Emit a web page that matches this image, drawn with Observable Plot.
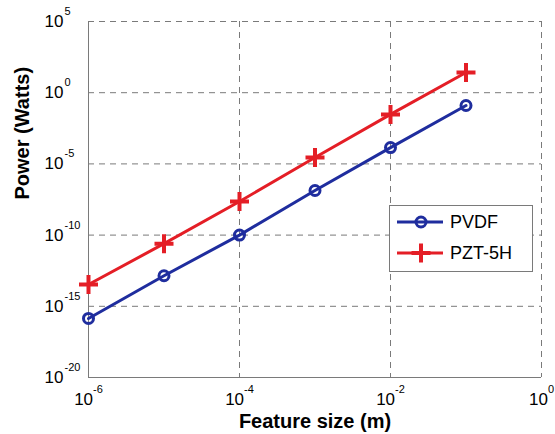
<!DOCTYPE html>
<html><head><meta charset="utf-8">
<script src="https://cdn.jsdelivr.net/npm/d3@7"></script>
<script src="https://cdn.jsdelivr.net/npm/@observablehq/plot@0.6"></script>
<style>
body{margin:0;background:#fff;}
#chart{width:555px;height:434px;}
</style></head><body><div id="chart"></div>
<script>
// Data (log-log)
const featureSize = [1e-6, 1e-5, 1e-4, 1e-3, 1e-2, 1e-1];
const pvdfPower = [1.4e-16, 1.4e-13, 1e-10, 1.35e-7, 1.4e-4, 0.126];
const pztPower = [3.4e-14, 2.5e-11, 2.3e-8, 2.8e-5, 3e-2, 26];
const seriesNames = ["PVDF", "PZT-5H"];
const seriesColors = ["#1f2d9e", "#e41e26"];
const xTicks = [1e-6, 1e-4, 1e-2, 1];
const yTicks = [1e5, 1, 1e-5, 1e-10, 1e-15, 1e-20];
const xDomain = [1e-6, 1];
const yDomain = [1e-20, 1e5];
const xLabel = "Feature size (m)";
const yLabel = "Power (Watts)";

const pvdfRows = featureSize.map((x, i) => ({x, y: pvdfPower[i], s: seriesNames[0]}));
const pztRows = featureSize.map((x, i) => ({x, y: pztPower[i], s: seriesNames[1]}));

const plusSymbol = {
  draw(ctx, size) {
    const r = Math.sqrt(size / Math.PI);
    ctx.moveTo(-r, 0); ctx.lineTo(r, 0);
    ctx.moveTo(0, -r); ctx.lineTo(0, r);
  }
};
const expFmt = d => String(Math.round(Math.log10(d)));
const gridStyle = {stroke: "#7a7a7a", strokeOpacity: 1, strokeDasharray: "6,5", strokeWidth: 1};

const plot = Plot.plot({
  width: 555, height: 434,
  marginLeft: 88, marginRight: 14, marginTop: 21, marginBottom: 57,
  style: {fontFamily: "'Liberation Sans', Arial, sans-serif", fontSize: "17px", color: "#000", background: "#fff", overflow: "visible"},
  x: {type: "log", domain: xDomain},
  y: {type: "log", domain: yDomain},
  color: {domain: seriesNames, range: seriesColors},
  marks: [
    Plot.gridX({...gridStyle, ticks: xTicks.slice(1)}),
    Plot.gridY({...gridStyle, ticks: yTicks.slice(0, -1)}),
    Plot.ruleX([xDomain[0]], {stroke: "#7a7a7a", strokeWidth: 1}),
    Plot.ruleY([yDomain[0]], {stroke: "#7a7a7a", strokeWidth: 1}),
    Plot.axisX({ticks: xTicks, tickSize: 0, tickPadding: 15, tickFormat: expFmt, label: null}),
    Plot.axisY({ticks: yTicks, tickSize: 0, tickPadding: 25, tickFormat: expFmt, label: null}),
    Plot.line(pvdfRows, {x: "x", y: "y", stroke: "s", strokeWidth: 3}),
    Plot.line(pztRows, {x: "x", y: "y", stroke: "s", strokeWidth: 3}),
    Plot.dot(pvdfRows, {x: "x", y: "y", stroke: "s", r: 5, strokeWidth: 3, fill: "none"}),
    Plot.dot(pztRows, {x: "x", y: "y", stroke: "s", r: 9.5, strokeWidth: 4, fill: "none", symbol: plusSymbol}),
    Plot.text([xLabel], {frameAnchor: "bottom", dy: 50, fontWeight: "bold", fontSize: 20, text: d => d}),
    Plot.text([yLabel], {frameAnchor: "left", dx: -66, rotate: -90, fontWeight: "bold", fontSize: 20, text: d => d})
  ]
});

const svg = d3.select(plot);
// x tick labels: 10 with superscript exponent, centred
svg.selectAll('g[aria-label="x-axis tick label"] text').each(function() {
  const e = this.textContent;
  const t = d3.select(this);
  t.text("");
  t.append("tspan").text("10");
  t.append("tspan").attr("dy", "-12").attr("font-size", "11px").text(e);
});
// y tick labels: base "10" right-aligned, exponent to the right
svg.selectAll('g[aria-label="y-axis tick label"] text').each(function() {
  const e = this.textContent;
  const t = d3.select(this);
  t.text("10");
  const ex = document.createElementNS("http://www.w3.org/2000/svg", "text");
  ex.setAttribute("transform", this.getAttribute("transform"));
  ex.setAttribute("x", "1");
  ex.setAttribute("y", "-6.5");
  ex.setAttribute("text-anchor", "start");
  ex.setAttribute("font-size", "11px");
  ex.textContent = e;
  this.parentNode.appendChild(ex);
});

// Legend
const lg = svg.append("g").attr("aria-label", "legend").attr("text-anchor", "start");
lg.append("rect").attr("x", 389.5).attr("y", 205.5).attr("width", 143).attr("height", 66)
  .attr("fill", "#fff").attr("stroke", "#7a7a7a").attr("stroke-width", 1);
const legendRows = [222, 253];
seriesNames.forEach((name, i) => {
  const cy = legendRows[i];
  const c = seriesColors[i];
  lg.append("line").attr("x1", 397).attr("x2", 443).attr("y1", cy).attr("y2", cy)
    .attr("stroke", c).attr("stroke-width", 3);
  if (i === 0) {
    lg.append("circle").attr("cx", 421).attr("cy", cy).attr("r", 5).attr("fill", "none")
      .attr("stroke", c).attr("stroke-width", 3);
  } else {
    lg.append("path").attr("d", `M${421 - 9.5},${cy}H${421 + 9.5}M421,${cy - 9.5}V${cy + 9.5}`)
      .attr("stroke", c).attr("stroke-width", 4).attr("fill", "none");
  }
  lg.append("text").attr("x", 450).attr("y", cy).attr("dy", "0.35em")
    .attr("text-anchor", "start").attr("font-size", "18px").attr("fill", "#000").text(name);
});

document.getElementById("chart").appendChild(plot);
</script>
</body></html>
